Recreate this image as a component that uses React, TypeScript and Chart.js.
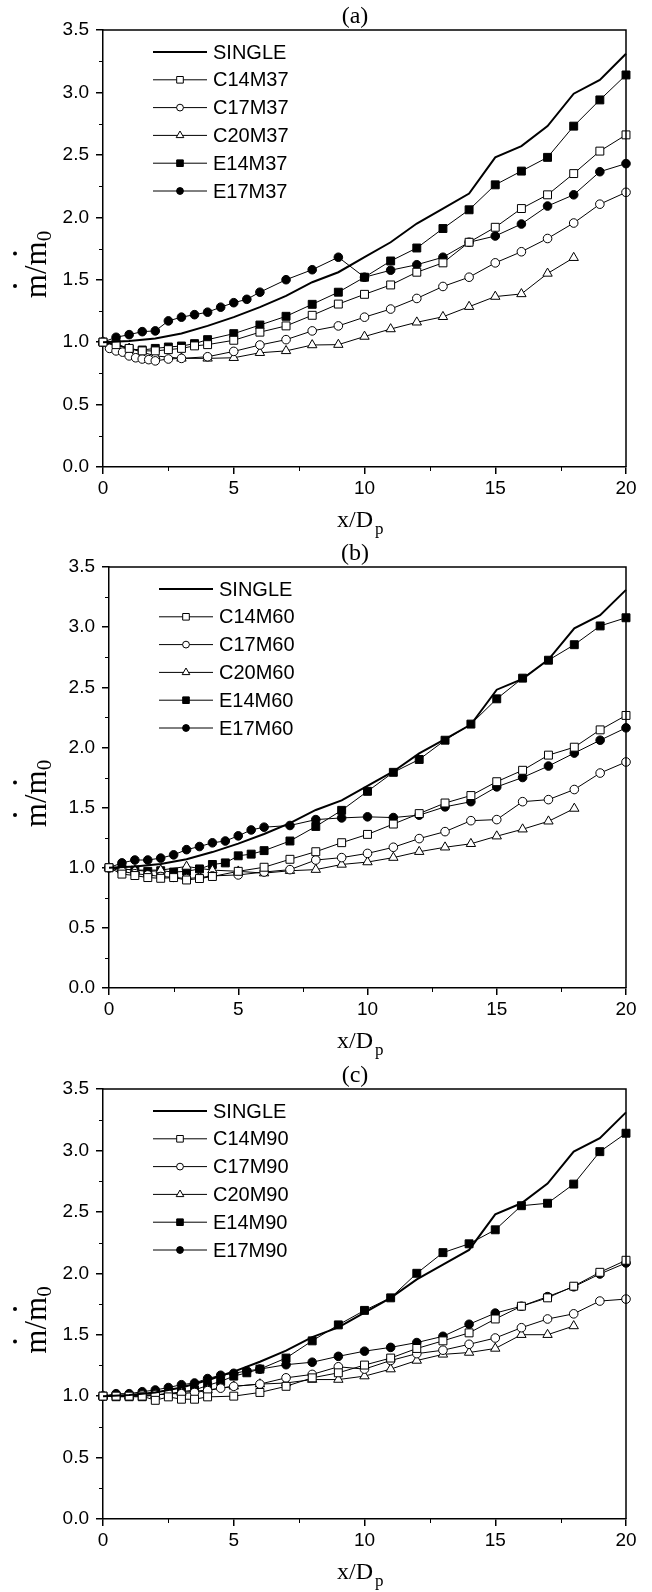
import React, { useEffect, useRef } from 'react';
import { Chart, registerables } from 'chart.js';

Chart.register(...registerables);

// ---------------- data ----------------
const X_INT = [0, 1, 2, 3, 4, 5, 6, 7, 8, 9, 10, 11, 12, 13, 14, 15, 16, 17, 18, 19, 20];
const X_INT18 = [0, 1, 2, 3, 4, 5, 6, 7, 8, 9, 10, 11, 12, 13, 14, 15, 16, 17, 18];
const X_HALF4 = [0, 0.5, 1, 1.5, 2, 2.5, 3, 3.5, 4, 5, 6, 7, 8, 9, 10, 11, 12, 13, 14, 15, 16, 17, 18, 19, 20];
const X_HALF6 = [0, 0.5, 1, 1.5, 2, 2.5, 3, 3.5, 4, 4.5, 5, 5.5, 6, 7, 8, 9, 10, 11, 12, 13, 14, 15, 16, 17, 18, 19, 20];
const X_C17M37 = [0, 0.25, 0.5, 0.75, 1, 1.25, 1.5, 1.75, 2, 2.5, 3, 4, 5, 6, 7, 8, 9, 10, 11, 12, 13, 14, 15, 16, 17, 18, 19, 20];
const X_C17M90 = [0, 0.5, 1, 1.5, 2, 2.5, 3, 3.5, 4, 4.5, 5, 6, 7, 8, 9, 10, 11, 12, 13, 14, 15, 16, 17, 18, 19, 20];

const SINGLE = [1.0, 1.01, 1.03, 1.07, 1.13, 1.2, 1.28, 1.37, 1.48, 1.56, 1.68, 1.8, 1.95, 2.07, 2.19, 2.48, 2.57, 2.73, 2.99, 3.1, 3.31];

// panel (a)
const C14M37 = [1.0, 0.98, 0.95, 0.93, 0.93, 0.94, 0.95, 0.97, 0.98, 1.015, 1.08, 1.13, 1.215, 1.305, 1.383, 1.458, 1.56, 1.635, 1.8, 1.92, 2.07, 2.18, 2.35, 2.53, 2.66];
const C17M37 = [1.0, 0.95, 0.93, 0.92, 0.89, 0.875, 0.865, 0.86, 0.85, 0.865, 0.87, 0.883, 0.926, 0.977, 1.02, 1.09, 1.13, 1.2, 1.265, 1.35, 1.446, 1.52, 1.635, 1.724, 1.83, 1.954, 2.105, 2.2];
const C20M37 = [1.0, 0.95, 0.89, 0.87, 0.87, 0.875, 0.915, 0.93, 0.977, 0.98, 1.045, 1.105, 1.159, 1.203, 1.284, 1.365, 1.386, 1.55, 1.676];
const E14M37 = [1.0, 0.99, 0.945, 0.937, 0.95, 0.961, 0.969, 0.988, 1.02, 1.068, 1.137, 1.207, 1.303, 1.4, 1.52, 1.65, 1.754, 1.91, 2.06, 2.26, 2.37, 2.48, 2.73, 2.94, 3.14];
const E17M37 = [1.0, 1.039, 1.06, 1.084, 1.09, 1.17, 1.2, 1.22, 1.24, 1.28, 1.316, 1.343, 1.4, 1.5, 1.58, 1.68, 1.52, 1.576, 1.62, 1.68, 1.8, 1.85, 1.946, 2.09, 2.18, 2.365, 2.43];

// panel (b)
const C14M60 = [1.0, 0.947, 0.935, 0.918, 0.912, 0.918, 0.898, 0.91, 0.927, 0.97, 1.004, 1.07, 1.133, 1.208, 1.277, 1.363, 1.45, 1.538, 1.6, 1.715, 1.81, 1.936, 2.002, 2.146, 2.266];
const C17M60 = [1.0, 0.97, 0.95, 0.94, 0.927, 0.92, 0.91, 0.918, 0.932, 0.94, 0.964, 0.984, 1.064, 1.084, 1.119, 1.17, 1.242, 1.3, 1.391, 1.4, 1.549, 1.566, 1.65, 1.787, 1.879];
const C20M60 = [1.0, 0.98, 0.98, 1.01, 0.98, 0.97, 0.955, 0.975, 0.984, 1.027, 1.047, 1.084, 1.133, 1.17, 1.199, 1.262, 1.32, 1.386, 1.492];
const E14M60 = [1.0, 0.99, 0.98, 0.97, 0.975, 0.964, 0.97, 0.99, 1.027, 1.04, 1.099, 1.113, 1.142, 1.222, 1.343, 1.477, 1.635, 1.793, 1.9, 2.06, 2.194, 2.404, 2.576, 2.725, 2.854, 3.01, 3.078];
const E17M60 = [1.0, 1.04, 1.064, 1.064, 1.08, 1.107, 1.15, 1.176, 1.207, 1.222, 1.265, 1.314, 1.337, 1.351, 1.4, 1.414, 1.423, 1.417, 1.437, 1.506, 1.549, 1.672, 1.75, 1.845, 1.953, 2.06, 2.163];

// panel (c)
const C14M90 = [1.0, 1.0, 1.0, 1.0, 0.966, 0.994, 0.975, 0.975, 0.994, 1.0, 1.03, 1.08, 1.149, 1.19, 1.253, 1.31, 1.388, 1.45, 1.515, 1.628, 1.732, 1.8, 1.895, 2.008, 2.106];
const C17M90 = [1.0, 1.0, 1.0, 1.01, 1.01, 1.02, 1.02, 1.03, 1.045, 1.065, 1.08, 1.098, 1.149, 1.177, 1.239, 1.22, 1.29, 1.346, 1.374, 1.422, 1.473, 1.557, 1.628, 1.67, 1.774, 1.79];
const C20M90 = [1.0, 1.0, 1.01, 1.03, 1.05, 1.08, 1.098, 1.107, 1.135, 1.135, 1.163, 1.22, 1.29, 1.34, 1.355, 1.388, 1.5, 1.5, 1.571];
const E14M90 = [1.0, 0.995, 0.995, 0.995, 1.01, 1.017, 1.036, 1.05, 1.087, 1.12, 1.163, 1.19, 1.22, 1.31, 1.45, 1.58, 1.698, 1.8, 2.0, 2.168, 2.24, 2.354, 2.55, 2.57, 2.726, 2.99, 3.14];
const E17M90 = [1.0, 1.02, 1.02, 1.036, 1.05, 1.07, 1.093, 1.107, 1.143, 1.17, 1.186, 1.205, 1.22, 1.256, 1.276, 1.324, 1.366, 1.397, 1.436, 1.487, 1.585, 1.676, 1.732, 1.81, 1.89, 1.994, 2.084];

const PANEL_LABELS = ['(a)', '(b)', '(c)'];
const X_TICK_STEP = 5;
const Y_TICK_STEP = 0.5;
const X_MINOR = [2.5, 7.5, 12.5, 17.5];
const Y_MINOR = [0.25, 0.75, 1.25, 1.75, 2.25, 2.75, 3.25];

// ---------------- styling ----------------
const SANS = '"Liberation Sans", Arial, sans-serif';
const SERIF = '"Liberation Serif", "Times New Roman", serif';

type Geo = { top: number; height: number; aTop: number; aBottom: number; aLeft: number; aRight: number };
const GEOS: Geo[] = [
  { top: 0, height: 545, aTop: 30, aBottom: 467, aLeft: 103, aRight: 626 },
  { top: 520, height: 545, aTop: 47, aBottom: 468, aLeft: 109, aRight: 626 },
  { top: 1050, height: 542, aTop: 39, aBottom: 469, aLeft: 103, aRight: 626 },
];

type Style = 'line' | 'rectOpen' | 'circleOpen' | 'triOpen' | 'rectFill' | 'circleFill';

function makeDataset(label: string, xs: number[], ys: number[], style: Style) {
  const data = xs.map((x, i) => ({ x, y: ys[i] }));
  const base: any = {
    label,
    data,
    borderColor: '#000',
    borderWidth: 1,
    tension: 0,
    clip: false,
    pointBorderColor: '#000',
    pointBorderWidth: 1,
    _style: style,
  };
  if (style === 'line') {
    return { ...base, borderWidth: 2, pointRadius: 0 };
  }
  const shape = style.startsWith('rect') ? 'rect' : style.startsWith('circle') ? 'circle' : 'triangle';
  const filled = style.endsWith('Fill');
  const radius = shape === 'rect' ? 5.6 : shape === 'circle' ? 4.3 : 5.4;
  return {
    ...base,
    pointStyle: shape,
    pointRadius: radius,
    pointBackgroundColor: filled ? '#000' : '#fff',
  };
}

function panelDatasets(p: number) {
  if (p === 0) {
    return [
      makeDataset('SINGLE', X_INT, SINGLE, 'line'),
      makeDataset('C14M37', X_HALF4, C14M37, 'rectOpen'),
      makeDataset('C17M37', X_C17M37, C17M37, 'circleOpen'),
      makeDataset('C20M37', X_INT18, C20M37, 'triOpen'),
      makeDataset('E14M37', X_HALF4, E14M37, 'rectFill'),
      makeDataset('E17M37', X_HALF6, E17M37, 'circleFill'),
    ];
  }
  if (p === 1) {
    return [
      makeDataset('SINGLE', X_INT, SINGLE, 'line'),
      makeDataset('C14M60', X_HALF4, C14M60, 'rectOpen'),
      makeDataset('C17M60', X_HALF4, C17M60, 'circleOpen'),
      makeDataset('C20M60', X_INT18, C20M60, 'triOpen'),
      makeDataset('E14M60', X_HALF6, E14M60, 'rectFill'),
      makeDataset('E17M60', X_HALF6, E17M60, 'circleFill'),
    ];
  }
  return [
    makeDataset('SINGLE', X_INT, SINGLE, 'line'),
    makeDataset('C14M90', X_HALF4, C14M90, 'rectOpen'),
    makeDataset('C17M90', X_C17M90, C17M90, 'circleOpen'),
    makeDataset('C20M90', X_INT18, C20M90, 'triOpen'),
    makeDataset('E14M90', X_HALF6, E14M90, 'rectFill'),
    makeDataset('E17M90', X_HALF6, E17M90, 'circleFill'),
  ];
}

function drawMarker(ctx: CanvasRenderingContext2D, style: Style, x: number, y: number) {
  if (style === 'line') return;
  ctx.beginPath();
  if (style.startsWith('rect')) {
    const s = 3.3;
    ctx.rect(x - s, y - s, 2 * s, 2 * s);
  } else if (style.startsWith('circle')) {
    ctx.arc(x, y, 3.4, 0, Math.PI * 2);
  } else {
    const r = 4.4;
    ctx.moveTo(x, y - r);
    ctx.lineTo(x + r * 0.866, y + r * 0.5);
    ctx.lineTo(x - r * 0.866, y + r * 0.5);
    ctx.closePath();
  }
  ctx.fillStyle = style.endsWith('Fill') ? '#000' : '#fff';
  ctx.fill();
  ctx.lineWidth = 1;
  ctx.strokeStyle = '#000';
  ctx.stroke();
}

const decorPlugin = {
  id: 'decor',
  afterDraw(chart: any, _args: any, opts: any) {
    const { ctx, chartArea: a, scales } = chart;
    const xs = scales.x;
    const ys = scales.y;
    ctx.save();
    // frame top & right
    ctx.strokeStyle = '#000';
    ctx.lineWidth = 1.5;
    ctx.beginPath();
    ctx.moveTo(a.left, a.top);
    ctx.lineTo(a.right, a.top);
    ctx.lineTo(a.right, a.bottom);
    ctx.stroke();
    // minor ticks
    ctx.lineWidth = 1;
    ctx.beginPath();
    for (const v of X_MINOR) {
      const px = Math.round(xs.getPixelForValue(v)) + 0.5;
      ctx.moveTo(px, a.bottom);
      ctx.lineTo(px, a.bottom + 4);
    }
    for (const v of Y_MINOR) {
      const py = Math.round(ys.getPixelForValue(v)) + 0.5;
      ctx.moveTo(a.left, py);
      ctx.lineTo(a.left - 4, py);
    }
    ctx.stroke();

    ctx.fillStyle = '#000';
    // panel label
    ctx.font = `24px ${SERIF}`;
    ctx.textAlign = 'center';
    ctx.textBaseline = 'alphabetic';
    ctx.fillText(opts.label, 355, a.top - 7);

    // x title  x/D_p
    ctx.textAlign = 'left';
    ctx.font = `24px ${SERIF}`;
    const xt = 'x/D';
    ctx.fillText(xt, 337, a.bottom + 60);
    const wxt = ctx.measureText(xt).width;
    ctx.font = `17px ${SERIF}`;
    ctx.fillText('p', 337 + wxt + 2, a.bottom + 67);

    // y title  m-dot / m-dot _0 (rotated)
    const cy = (a.top + a.bottom) / 2 + 16;
    ctx.save();
    ctx.translate(46, cy);
    ctx.rotate(-Math.PI / 2);
    const big = `31px ${SERIF}`;
    const small = `21px ${SERIF}`;
    ctx.font = big;
    const wm = ctx.measureText('m').width;
    const wsl = ctx.measureText('/').width;
    ctx.font = small;
    const w0 = ctx.measureText('0').width;
    const total = wm * 2 + wsl + w0;
    let sx = -total / 2;
    ctx.font = big;
    ctx.fillText('m', sx, 0);
    ctx.beginPath();
    ctx.arc(sx + wm / 2, -31, 2, 0, Math.PI * 2);
    ctx.fill();
    sx += wm;
    ctx.fillText('/', sx, 0);
    sx += wsl;
    ctx.fillText('m', sx, 0);
    ctx.beginPath();
    ctx.arc(sx + wm / 2, -31, 2, 0, Math.PI * 2);
    ctx.fill();
    sx += wm;
    ctx.font = small;
    ctx.fillText('0', sx, 5);
    ctx.restore();

    // legend
    const datasets = chart.data.datasets;
    ctx.font = `20px ${SANS}`;
    ctx.textBaseline = 'middle';
    ctx.textAlign = 'left';
    datasets.forEach((ds: any, i: number) => {
      const y = a.top + 22 + i * 27.8;
      const x0 = a.left + 50;
      const x1 = a.left + 104;
      ctx.beginPath();
      ctx.strokeStyle = '#000';
      ctx.lineWidth = ds._style === 'line' ? 2 : 1;
      ctx.moveTo(x0, y);
      ctx.lineTo(x1, y);
      ctx.stroke();
      drawMarker(ctx, ds._style, (x0 + x1) / 2, y);
      ctx.fillStyle = '#000';
      ctx.fillText(ds.label, a.left + 110, y + 1);
    });
    ctx.restore();
  },
};

function Panel({ index }: { index: number }) {
  const ref = useRef<HTMLCanvasElement | null>(null);
  const g = GEOS[index];
  useEffect(() => {
    if (!ref.current) return;
    const tickFont = { family: SANS, size: 19 };
    const chart = new Chart(ref.current, {
      type: 'line',
      data: { datasets: panelDatasets(index) as any },
      options: {
        animation: false,
        responsive: false,
        maintainAspectRatio: false,
        devicePixelRatio: 1,
        layout: { padding: { top: g.aTop, right: 652 - g.aRight, left: 0, bottom: 0 } },
        plugins: {
          legend: { display: false },
          tooltip: { enabled: false },
          decor: { label: PANEL_LABELS[index] },
        } as any,
        scales: {
          x: {
            type: 'linear',
            min: 0,
            max: 20,
            ticks: { stepSize: X_TICK_STEP, font: tickFont, color: '#000', padding: 3, maxRotation: 0, autoSkip: false },
            grid: { display: true, drawOnChartArea: false, drawTicks: true, tickLength: 7, color: '#000', lineWidth: 1.5 },
            border: { display: true, color: '#000', width: 1.5 },
            afterFit: (s: any) => {
              s.height = g.height - g.aBottom;
              s.paddingLeft = 0;
              s.paddingRight = 0;
            },
          },
          y: {
            type: 'linear',
            min: 0,
            max: 3.5,
            ticks: {
              stepSize: Y_TICK_STEP,
              font: tickFont,
              color: '#000',
              padding: 7,
              callback: (v: any) => Number(v).toFixed(1),
            },
            grid: { display: true, drawOnChartArea: false, drawTicks: true, tickLength: 7, color: '#000', lineWidth: 1.5 },
            border: { display: true, color: '#000', width: 1.5 },
            afterFit: (s: any) => {
              s.width = g.aLeft;
              s.paddingTop = 0;
              s.paddingBottom = 0;
            },
          },
        },
      } as any,
      plugins: [decorPlugin as any],
    });
    return () => chart.destroy();
  }, [index]);
  return (
    <canvas
      ref={ref}
      width={652}
      height={g.height}
      style={{ position: 'absolute', left: 0, top: g.top, width: 652, height: g.height, display: 'block' }}
    />
  );
}

export default function App() {
  return (
    <div style={{ position: 'absolute', left: 0, top: 0, width: 652, height: 1592, background: '#fff' }}>
      <Panel index={0} />
      <Panel index={1} />
      <Panel index={2} />
    </div>
  );
}
